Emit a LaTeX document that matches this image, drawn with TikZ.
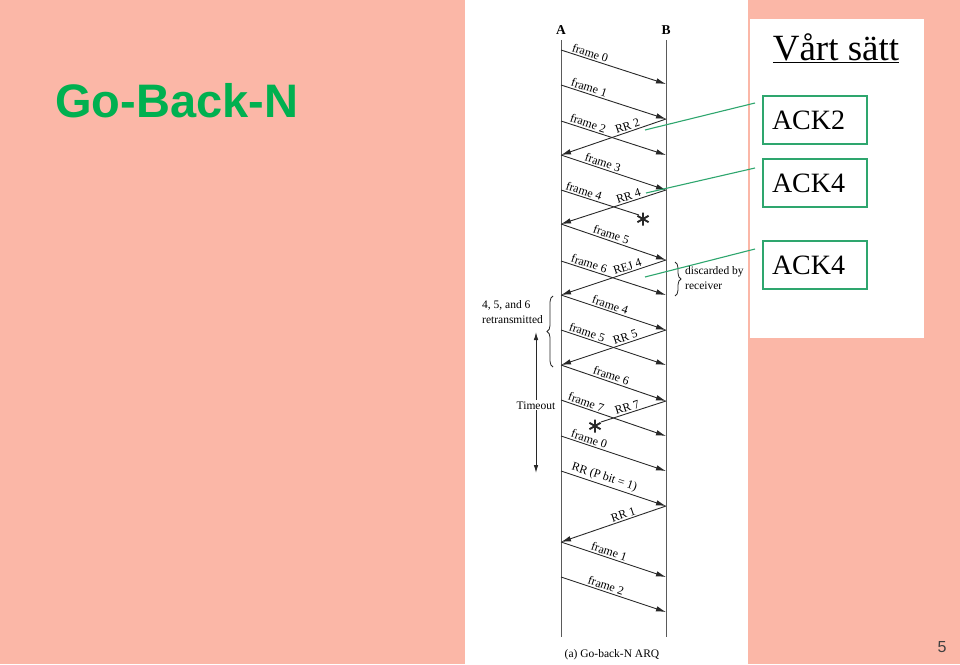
\documentclass[tikz,border=0pt]{standalone}
\usepackage{fontspec}
\setmainfont{Liberation Serif}
\newfontfamily\sansf{Liberation Sans}
\usetikzlibrary{arrows.meta,decorations.pathreplacing}
\definecolor{salmon}{RGB}{251,183,167}
\definecolor{titlegreen}{RGB}{0,176,80}
\definecolor{linkgreen}{RGB}{46,166,110}
\definecolor{linec}{RGB}{40,40,40}
\definecolor{lifec}{RGB}{90,90,90}
\definecolor{pagegrey}{RGB}{64,64,64}
\begin{document}
\begin{tikzpicture}[x=1pt,y=-1pt,
  life/.style={draw=lifec, line width=1pt},
  msg/.style={draw=linec, line width=0.9pt, -{Latex[length=10pt,width=5.5pt]}},
  lostmsg/.style={draw=linec, line width=0.9pt},
  lab/.style={sloped, above, inner sep=1.5pt, font=\fontsize{12}{13}\selectfont},
  hdr/.style={font=\bfseries\fontsize{13.5}{15}\selectfont},
  starl/.style={draw=linec, line width=1.9pt},
  bracel/.style={draw=linec, line width=0.8pt, decorate, decoration={brace, amplitude=6pt}},
  note/.style={align=left, font=\fontsize{11.5}{15}\selectfont, inner sep=0pt},
  tarrow/.style={draw=linec, line width=0.9pt, {Latex[length=8pt,width=4.5pt]}-{Latex[length=8pt,width=4.5pt]}},
  ackbox/.style={draw=linkgreen, line width=1.2pt, minimum width=104pt, minimum height=48pt, text width=86pt, inner xsep=9pt, align=left, font=\fontsize{28}{30}\selectfont},
  gline/.style={draw=linkgreen, line width=1.1pt}
]
\useasboundingbox (0,0) rectangle (960,664);
\fill[salmon] (0,0) rectangle (960,664);
\fill[white] (465,0) rectangle (748,664);
\fill[white] (750,19) rectangle (924,338);

% title and page number
\node[anchor=base west, inner sep=0pt, font=\sansf\bfseries\fontsize{47}{50}\selectfont, text=titlegreen] (title) at (55,117) {Go-Back-N};
\node[font=\sansf\fontsize{16}{18}\selectfont, text=pagegrey] (pnum) at (942,647) {5};

% lifelines
\coordinate (Atop) at (561,40); \coordinate (Abot) at (561,637);
\coordinate (Btop) at (666,40); \coordinate (Bbot) at (666,637);
\node[hdr] (hA) at (561,30) {A};
\node[hdr] (hB) at (666,30) {B};
\draw[life] (Atop) -- (Abot);
\draw[life] (Btop) -- (Bbot);

\foreach \y in {50,85,121,155,190,224,261,295,330,365,400,436,471,542,577}
  \coordinate (A\y) at (561,\y);
\foreach \y in {84,119,155,190,260,295,330,365,401,436,471,506,577,612}
  \coordinate (B\y) at (666,\y);
\coordinate (L1) at (639,215);
\coordinate (L2) at (601,422);

% messages
\draw[msg] (A50) -- node[lab,pos=.26]{frame 0} (B84);
\draw[msg] (A85) -- node[lab,pos=.25]{frame 1} (B119);
\draw[msg] (A121) -- node[lab,pos=.24]{frame 2} (B155);
\draw[msg] (B119) -- node[lab,pos=.35]{RR 2} (A155);
\draw[msg] (A155) -- node[lab,pos=.38]{frame 3} (B190);
\draw[lostmsg] (A190) -- node[lab,pos=.27]{frame 4} (L1);
\draw[msg] (B190) -- node[lab,pos=.34]{RR 4} (A224);
\draw[msg] (A224) -- node[lab,pos=.46]{frame 5} (B260);
\draw[msg] (A261) -- node[lab,pos=.25]{frame 6} (B295);
\draw[msg] (B260) -- node[lab,pos=.35]{REJ 4} (A295);
\draw[msg] (A295) -- node[lab,pos=.45]{frame 4} (B330);
\draw[msg] (A330) -- node[lab,pos=.23]{frame 5} (B365);
\draw[msg] (B330) -- node[lab,pos=.37]{RR 5} (A365);
\draw[msg] (A365) -- node[lab,pos=.46]{frame 6} (B401);
\draw[msg] (A400) -- node[lab,pos=.22]{frame 7} (B436);
\draw[lostmsg] (B401) -- node[lab,pos=.57]{RR 7} (L2);
\draw[msg] (A436) -- node[lab,pos=.25]{frame 0} (B471);
\draw[msg] (A471) -- node[lab,pos=.39]{RR (P bit = 1)} (B506);
\draw[msg] (B506) -- node[lab,pos=.39]{RR 1} (A542);
\draw[msg] (A542) -- node[lab,pos=.44]{frame 1} (B577);
\draw[msg] (A577) -- node[lab,pos=.41]{frame 2} (B612);

% stars (lost)
\coordinate (S1) at (643,219);
\coordinate (S2) at (595,426);
\foreach \s in {S1,S2}
  \draw[starl, shift={(\s)}] (0,-6.5)--(0,6.5) (-5.6,-3.2)--(5.6,3.2) (-5.6,3.2)--(5.6,-3.2);

% braces and notes
\coordinate (br1t) at (675,262); \coordinate (br1b) at (675,296);
\draw[bracel] (br1t) -- (br1b);
\node[note, anchor=west] (disc) at (685,278) {discarded by\\receiver};

\coordinate (br2b) at (553,367); \coordinate (br2t) at (553,296);
\draw[bracel] (br2b) -- (br2t);
\node[note, anchor=west] (retx) at (482,312) {4, 5, and 6\\retransmitted};

\coordinate (T1) at (536,332); \coordinate (T2) at (536,473);
\draw[tarrow] (T1) -- node[pos=.52, fill=white, inner sep=1pt, font=\fontsize{11.5}{13}\selectfont] (tout) {Timeout} (T2);

\node[font=\fontsize{11.5}{13}\selectfont] (cap) at (612,655) {(a) Go-back-N ARQ};

% right panel
\node[anchor=base, inner sep=0pt, font=\fontsize{37}{40}\selectfont] (vs) at (836,60) {\underline{Vårt sätt}};
\node[ackbox] (ack1) at (815,120) {ACK2};
\node[ackbox] (ack2) at (815,183) {ACK4};
\node[ackbox] (ack3) at (815,265) {ACK4};

\coordinate (g1a) at (645,130); \coordinate (g1b) at (755,103);
\coordinate (g2a) at (646,193); \coordinate (g2b) at (755,168);
\coordinate (g3a) at (645,277); \coordinate (g3b) at (755,249);
\draw[gline] (g1a) -- (g1b);
\draw[gline] (g2a) -- (g2b);
\draw[gline] (g3a) -- (g3b);
\end{tikzpicture}
\end{document}
